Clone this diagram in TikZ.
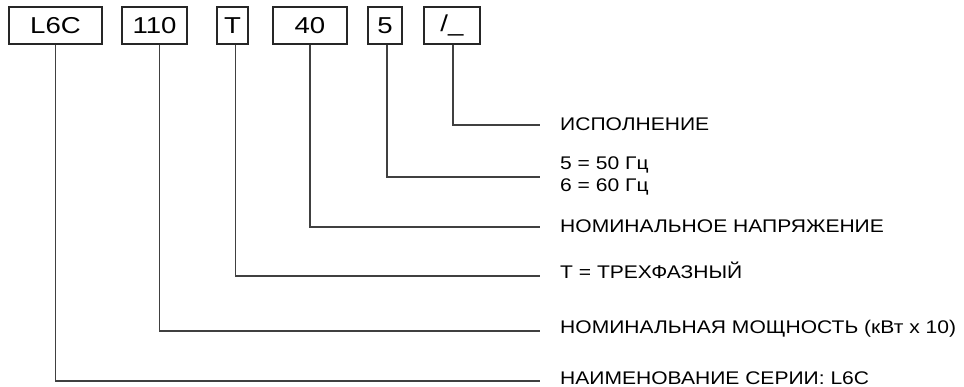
\documentclass[tikz,border=0pt]{standalone}
\usepackage{fontspec}
\setmainfont{Liberation Sans}
\newfontfamily\widefont[FakeStretch=1.15]{Liberation Sans}
\newfontfamily\boxfont[FakeStretch=1.2]{Liberation Sans}
\begin{document}
\begin{tikzpicture}[x=1pt,y=-1pt,
  codebox/.style={draw=black!85,line width=1.1pt,inner sep=0pt,minimum height=37pt,font=\boxfont\fontsize{23}{25}\selectfont},
  conn/.style={draw=black!75,line width=1.2pt},
  lbl/.style={anchor=west,inner sep=0pt,font=\widefont\fontsize{18.3}{20}\selectfont}]
\useasboundingbox (0,0) rectangle (964,387);
\node[codebox,minimum width=93pt] (b1) at (55.5,25.5) {L6C};
\node[codebox,minimum width=65pt] (b2) at (154.5,25.5) {110};
\node[codebox,minimum width=31pt] (b3) at (232.5,25.5) {T};
\node[codebox,minimum width=74pt] (b4) at (310,25.5) {40};
\node[codebox,minimum width=34pt] (b5) at (385,25.5) {5};
\node[codebox,minimum width=56pt] (b6) at (452,25.5) {/\_};
\node[lbl] (l6) at (560,124) {ИСПОЛНЕНИЕ};
\node[lbl] (l5a) at (560,165) {5 = 50 Гц};
\node[lbl] (l5b) at (560,187) {6 = 60 Гц};
\node[lbl] (l4) at (560,226) {НОМИНАЛЬНОЕ НАПРЯЖЕНИЕ};
\node[lbl] (l3) at (560,270) {T = ТРЕХФАЗНЫЙ};
\node[lbl] (l2) at (560,329) {НОМИНАЛЬНАЯ МОЩНОСТЬ (кВт x 10)};
\node[lbl] (l1) at (560,378) {НАИМЕНОВАНИЕ СЕРИИ: L6C};
\coordinate (e6) at (540,125);
\coordinate (e5) at (540,177);
\coordinate (e4) at (540,227);
\coordinate (e3) at (540,276);
\coordinate (e2) at (540,331);
\coordinate (e1) at (540,381);
\draw[conn] ([xshift=1pt]b6.south) |- (e6);
\draw[conn] ([xshift=2pt]b5.south) |- (e5);
\draw[conn] (b4.south) |- (e4);
\draw[conn] ([xshift=3pt]b3.south) |- (e3);
\draw[conn] ([xshift=5pt]b2.south) |- (e2);
\draw[conn] (b1.south) |- (e1);
\end{tikzpicture}
\end{document}
